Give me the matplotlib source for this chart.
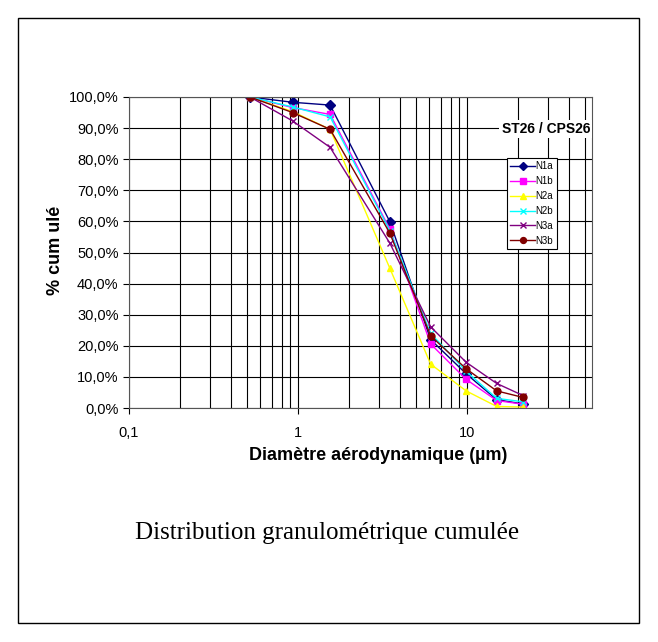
import matplotlib.pyplot as plt
from matplotlib.ticker import FixedLocator, FuncFormatter
from matplotlib.patches import Rectangle

# Diamètres aérodynamiques (µm)
diam = [0.52, 0.93, 1.55, 3.5, 6.1, 9.9, 15.0, 21.5]

# % cumulé par série
n1a = [100.0, 98.3, 97.4, 59.9, 22.0, 11.0, 2.7, 1.3]
n1b = [100.0, 96.6, 94.4, 57.5, 20.6, 9.2, 2.4, 1.2]
n2a = [100.0, 95.3, 89.6, 44.9, 14.1, 5.5, 0.5, 0.3]
n2b = [100.0, 96.8, 93.6, 57.0, 24.0, 11.8, 3.1, 2.0]
n3a = [100.0, 92.3, 83.8, 53.0, 26.1, 14.7, 7.9, 4.0]
n3b = [100.0, 95.0, 89.6, 56.2, 23.2, 12.6, 5.5, 3.4]

series = [
    ("N1a", n1a, "#000080", "D"),
    ("N1b", n1b, "#FF00FF", "s"),
    ("N2a", n2a, "#FFFF00", "^"),
    ("N2b", n2b, "#00FFFF", "x"),
    ("N3a", n3a, "#800080", "x"),
    ("N3b", n3b, "#800000", "o"),
]

W, H = 658, 642
fig = plt.figure(figsize=(W / 100, H / 100), dpi=100)
plt.rcParams['font.family'] = ['Liberation Sans', 'DejaVu Sans']

# cadre extérieur
fig.patches.append(Rectangle((18 / W, 1 - 623 / H), 621 / W, 605 / H,
                             transform=fig.transFigure, fill=False,
                             edgecolor="black", linewidth=1.0))

ax = fig.add_axes([129 / W, 1 - 408 / H, (592 - 129) / W, (408 - 97) / H])
ax.set_xscale("log")
ax.set_xlim(0.1, 55)
ax.set_ylim(0, 100)

for name, vals, col, mk in series:
    ax.plot(diam, vals, color=col, marker=mk, markersize=5, linewidth=1.0,
            label=name, markeredgewidth=1.0)

# grille
ax.xaxis.set_major_locator(FixedLocator([0.1, 1, 10]))
minor = [m * d for d in (0.1, 1, 10) for m in range(2, 10)]
ax.xaxis.set_minor_locator(FixedLocator([v for v in minor if v < 55]))
ax.set_yticks(range(0, 101, 10))
ax.grid(True, which="both", color="black", linewidth=0.8)
ax.set_axisbelow(True)
ax.xaxis.set_major_formatter(FuncFormatter(lambda v, p: ("%g" % v).replace(".", ",")))
ax.xaxis.set_minor_formatter(FuncFormatter(lambda v, p: ""))
ax.yaxis.set_major_formatter(FuncFormatter(lambda v, p: ("%.1f%%" % v).replace(".", ",")))
ax.tick_params(axis="both", which="major", labelsize=10.5, length=4, direction="out")
ax.tick_params(axis="x", which="minor", length=0)
ax.tick_params(axis="x", pad=9)
for s in ax.spines.values():
    s.set_color("#555555")

fig.text(378 / W, 1 - 455 / H, "Diamètre aérodynamique (µm)", fontsize=13,
         fontweight="bold", ha="center", va="center")
fig.text(56 / W, 1 - 250 / H, "% cum ulé", fontsize=13, fontweight="bold",
         rotation=90, ha="center", va="center")

fig.text(590 / W, 1 - 129 / H, "ST26 / CPS26", fontsize=10, fontweight="bold",
         ha="right", va="center",
         bbox=dict(facecolor="white", edgecolor="none", pad=1.5))

leg = ax.legend(loc="upper left", bbox_to_anchor=(507 / W, 1 - 158 / H),
                bbox_transform=fig.transFigure, fontsize=7, frameon=True,
                fancybox=False, framealpha=1, edgecolor="black",
                borderaxespad=0, handlelength=2.5, handletextpad=0.1,
                labelspacing=0.5, borderpad=0.35, markerscale=0.85)
leg.get_frame().set_linewidth(0.8)

fig.text(327 / W, 1 - 533 / H, "Distribution granulométrique cumulée",
         fontsize=18, family=["Liberation Serif", "DejaVu Serif"],
         ha="center", va="center")

fig.savefig("out.png", dpi=100)
